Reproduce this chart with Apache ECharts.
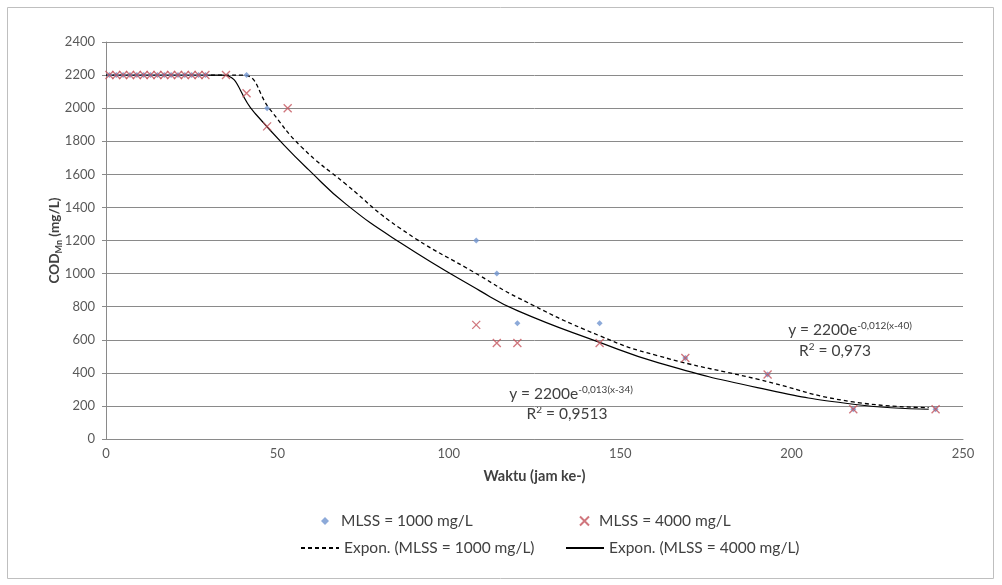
<!DOCTYPE html>
<html>
<head>
<meta charset="utf-8">
<script src="https://cdn.jsdelivr.net/npm/echarts@6/dist/echarts.min.js"></script>
<style>html,body{margin:0;padding:0;background:#fff;}#c{width:1002px;height:585px;}</style>
</head>
<body>
<div id="c"></div>
<script>
// Data
const flatHours = [1, 3, 5, 7, 9, 11, 13, 15, 17, 19, 21, 23, 25, 27, 29];
const flatCOD = [2200, 2200, 2200, 2200, 2200, 2200, 2200, 2200, 2200, 2200, 2200, 2200, 2200, 2200, 2200];
const hours1000 = [41, 47, 108, 114, 120, 144, 169, 193, 218, 242];
const cod1000 = [2200, 2000, 1200, 1000, 700, 700, 490, 390, 180, 180];
const hours4000 = [35, 41, 47, 53, 108, 114, 120, 144, 169, 193, 218, 242];
const cod4000 = [2200, 2090, 1890, 2000, 690, 580, 580, 580, 490, 390, 180, 180];
// Trend curves
const trendHours1000 = [0, 36, 40, 48, 57, 70, 86, 109, 120, 144, 161, 190, 218, 240];
const trendCOD1000 = [2200, 2200, 2200, 1988, 1766, 1540, 1271, 988, 856, 624, 503, 362, 224, 190];
const trendHours4000 = [0, 30, 34, 43, 52, 59, 70, 86, 109, 120, 144, 161, 190, 218, 240];
const trendCOD4000 = [2200, 2200, 2200, 1980, 1775, 1630, 1420, 1185, 897, 776, 584, 462, 311, 210, 180];
const xTicks = [0, 50, 100, 150, 200, 250];
const yTicks = [0, 200, 400, 600, 800, 1000, 1200, 1400, 1600, 1800, 2000, 2200, 2400];

const zip = (a, b) => a.map((v, i) => [v, b[i]]);
const FONT = 'Lato';
const blue = '#7095cf';
const red = '#c4545c';
const xPath = 'path://M0,0L10,10M10,0L0,10';
const supRich = {
  a: { fontSize: 15.5, fill: '#404040', fontFamily: FONT, lineHeight: 19, verticalAlign: 'bottom' },
  s: { fontSize: 10, fill: '#404040', fontFamily: FONT, lineHeight: 12, verticalAlign: 'bottom', padding: [0, 0, 7, 0] }
};
const legendText = { fontSize: 15.5, color: '#404040', fontFamily: FONT };

const chart = echarts.init(document.getElementById('c'));
chart.setOption({
  animation: false,
  textStyle: { fontFamily: FONT },
  grid: { left: 106, right: 39, top: 42, bottom: 146 },
  xAxis: {
    type: 'value', min: xTicks[0], max: xTicks[xTicks.length - 1], interval: 50,
    name: 'Waktu (jam ke-)', nameLocation: 'middle', nameGap: 30, nameMoveOverlap: false,
    nameTextStyle: { fontWeight: 'bold', fontSize: 14.5, color: '#404040', fontFamily: FONT },
    axisLine: { lineStyle: { color: '#8a8a8a', width: 1 } },
    axisTick: { show: false },
    axisLabel: { color: '#595959', fontSize: 13, margin: 8, fontFamily: FONT, formatter: v => String(v) },
    splitLine: { show: false }
  },
  yAxis: {
    type: 'value', min: yTicks[0], max: yTicks[yTicks.length - 1], interval: 200,
    name: '{b|COD}{s|Mn}{b| (mg/L)}', nameLocation: 'middle', nameGap: 42, nameRotate: 90, nameMoveOverlap: false,
    nameTextStyle: {
      rich: {
        b: { fontWeight: 'bold', fontSize: 13.5, color: '#404040', fontFamily: FONT, lineHeight: 18, verticalAlign: 'middle' },
        s: { fontWeight: 'bold', fontSize: 9, color: '#404040', fontFamily: FONT, lineHeight: 18, verticalAlign: 'bottom' }
      }
    },
    axisLine: { show: true, lineStyle: { color: '#8a8a8a', width: 1 } },
    axisTick: { show: true, length: 4, lineStyle: { color: '#8a8a8a' } },
    axisLabel: { color: '#595959', fontSize: 13, margin: 11, fontFamily: FONT, formatter: v => String(v) },
    splitLine: { lineStyle: { color: '#8a8a8a', width: 1 } }
  },
  legend: [
    { data: ['MLSS = 1000 mg/L'], left: 316, top: 508, itemWidth: 8, itemHeight: 8, textStyle: Object.assign({ padding: [0, 0, 0, 7] }, legendText) },
    { data: ['MLSS = 4000 mg/L'], left: 574, top: 508, itemWidth: 9, itemHeight: 9, textStyle: Object.assign({ padding: [0, 0, 0, 5] }, legendText) },
    { data: ['Expon. (MLSS = 1000 mg/L)'], left: 295, top: 535, itemWidth: 38, itemHeight: 10, textStyle: legendText, itemStyle: { opacity: 0 } },
    { data: ['Expon. (MLSS = 4000 mg/L)'], left: 560, top: 535, itemWidth: 38, itemHeight: 10, textStyle: legendText, itemStyle: { opacity: 0 } }
  ],
  series: [
    {
      name: 'Expon. (MLSS = 1000 mg/L)', type: 'line', data: zip(trendHours1000, trendCOD1000),
      symbol: 'none', smooth: 0.5, z: 1,
      lineStyle: { color: '#000', width: 1.3, type: [4, 3] }, itemStyle: { color: '#000' }
    },
    {
      name: 'Expon. (MLSS = 4000 mg/L)', type: 'line', data: zip(trendHours4000, trendCOD4000),
      symbol: 'none', smooth: 0.5, z: 1,
      lineStyle: { color: '#000', width: 1.2 }, itemStyle: { color: '#000' }
    },
    {
      name: 'MLSS = 1000 mg/L', type: 'scatter', symbol: 'diamond', symbolSize: 6, z: 3,
      data: zip(flatHours, flatCOD).concat(zip(hours1000, cod1000)),
      itemStyle: { color: blue }
    },
    {
      name: 'MLSS = 4000 mg/L', type: 'scatter', symbol: xPath, symbolSize: 8, z: 4,
      data: zip(flatHours, flatCOD).concat(zip(hours4000, cod4000)),
      itemStyle: { color: 'rgba(0,0,0,0)', borderColor: red, borderWidth: 1.3 }
    }
  ],
  graphic: [
    { type: 'rect', shape: { x: 7.5, y: 7.5, width: 986, height: 571 }, style: { fill: 'none', stroke: '#bfbfbf', lineWidth: 1 }, silent: true },
    { type: 'text', x: 571, y: 392, style: { text: '{a|y = 2200e}{s|-0,013(x-34)}', align: 'center', verticalAlign: 'middle', rich: supRich } },
    { type: 'text', x: 567, y: 412, style: { text: '{a|R}{s|2}{a| = 0,9513}', align: 'center', verticalAlign: 'middle', rich: supRich } },
    { type: 'text', x: 850, y: 328, style: { text: '{a|y = 2200e}{s|-0,012(x-40)}', align: 'center', verticalAlign: 'middle', rich: supRich } },
    { type: 'text', x: 835, y: 349, style: { text: '{a|R}{s|2}{a| = 0,973}', align: 'center', verticalAlign: 'middle', rich: supRich } }
  ]
});
</script>
</body>
</html>
